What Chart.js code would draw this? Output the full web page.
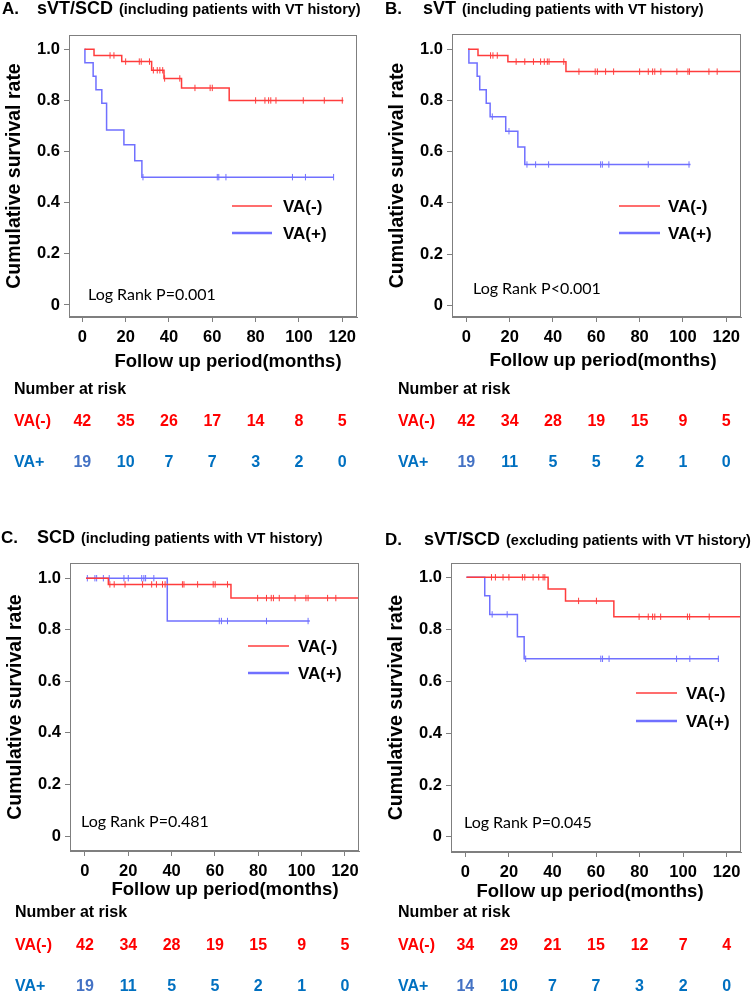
<!DOCTYPE html>
<html><head><meta charset="utf-8">
<script src="https://cdn.jsdelivr.net/npm/chart.js@4.4.1/dist/chart.umd.min.js"></script>
<style>
html,body{margin:0;padding:0;background:#fff;}
#wrap{position:relative;width:756px;height:994px;overflow:hidden;background:#fff;}
canvas{position:absolute;}
</style></head><body>
<div id="wrap">
<canvas id="cA" width="378" height="490" style="left:0;top:0"></canvas>
<canvas id="cB" width="378" height="490" style="left:378px;top:0"></canvas>
<canvas id="cC" width="378" height="504" style="left:0;top:490px"></canvas>
<canvas id="cD" width="378" height="504" style="left:378px;top:490px"></canvas>
</div>
<script>
// ---------- data ----------
const xTicks = [0, 20, 40, 60, 80, 100, 120];
const yTicks = [0, 0.2, 0.4, 0.6, 0.8, 1.0];
const groupLabels = ['VA(-)', 'VA(+)'];
const riskLabels = ['VA(-)', 'VA+'];

// Panel A: sVT/SCD (including patients with VT history)
const aNegTime = [1, 5.4, 18.2, 32, 37.7, 45.8, 67.8, 120.5];
const aNegSurv = [1, 0.976, 0.952, 0.918, 0.886, 0.849, 0.80, 0.80];
const aNegCens = [12.8, 14.6, 20, 26.3, 27.2, 31, 32.8, 34.6, 35.8, 37.1, 38, 45, 52, 59, 60, 80, 84.3, 86, 87, 89.4, 102, 111.7, 120];
const aPosTime = [1, 1.2, 5, 6.3, 9, 11.2, 19.2, 24.2, 27.5, 116];
const aPosSurv = [1, 0.947, 0.895, 0.842, 0.789, 0.684, 0.627, 0.564, 0.50, 0.50];
const aPosCens = [28, 62.3, 63, 66.3, 97, 103, 116];
const aRiskNeg = [42, 35, 26, 17, 14, 8, 5];
const aRiskPos = [19, 10, 7, 7, 3, 2, 0];

// Panel B: sVT (including patients with VT history)
const bNegTime = [0.8, 5.4, 19.2, 46, 130];
const bNegSurv = [1, 0.976, 0.952, 0.913, 0.913];
const bNegCens = [11.2, 12.3, 14.3, 23, 27, 31, 34.3, 36, 37.4, 38.2, 45, 52, 59.5, 60.5, 64.3, 68, 80, 84, 86, 87, 89.8, 97.2, 102.3, 103, 112, 115.8];
const bPosTime = [0.8, 1.2, 5, 6.2, 9.2, 11, 18.2, 23.8, 27, 103.5];
const bPosSurv = [1, 0.947, 0.895, 0.842, 0.789, 0.737, 0.68, 0.618, 0.55, 0.55];
const bPosCens = [12, 19.7, 28, 32, 38, 62, 62.8, 65.8, 84, 102.8];
const bRiskNeg = [42, 34, 28, 19, 15, 9, 5];
const bRiskPos = [19, 11, 5, 5, 2, 1, 0];

// Panel C: SCD (including patients with VT history)
const cNegTime = [0.5, 10.8, 67.4, 130];
const cNegSurv = [1, 0.976, 0.923, 0.923];
const cNegCens = [11.5, 13.5, 18.5, 26.6, 30.8, 33, 35.8, 37, 45, 45.7, 52, 59.2, 60.1, 65.8, 79.7, 83.8, 86, 87, 89.7, 97, 102, 103, 112, 115.8];
const cPosTime = [0.5, 38, 103.8];
const cPosSurv = [1, 0.834, 0.834];
const cPosCens = [1.1, 4.6, 5.4, 8.5, 11.2, 18, 20, 26.2, 27.2, 28, 31.8, 62, 63, 65.8, 83.8, 103];
const cRiskNeg = [42, 34, 28, 19, 15, 9, 5];
const cRiskPos = [19, 11, 5, 5, 2, 1, 0];

// Panel D: sVT/SCD (excluding patients with VT history)
const dNegTime = [0.5, 38, 46, 68.2, 130];
const dNegSurv = [1, 0.955, 0.909, 0.848, 0.848];
const dNegCens = [12, 13.8, 17.3, 20, 26.2, 27.3, 31.1, 33.7, 35.7, 36.5, 52, 60.2, 79.8, 84, 86, 87, 89.7, 102, 103, 112];
const dPosTime = [0.5, 8.9, 11.2, 23.9, 27, 116.5];
const dPosSurv = [1, 0.929, 0.857, 0.771, 0.686, 0.686];
const dPosCens = [12.3, 19.2, 27.7, 62.2, 63, 66, 97, 103.1, 116.2];
const dRiskNeg = [34, 29, 21, 15, 12, 7, 4];
const dRiskPos = [14, 10, 7, 7, 3, 2, 0];

// ---------- styling / layout ----------
const RED = '#ff3c3c';
const BLUE = '#7070ff';
const RISK_RED = '#ff0000';
const RISK_BLUE = '#0070c0';
const RISK_BLUE_FIRST = '#4472c4';
const FRAME = '#7f7f7f';
const ARIAL = '"Liberation Sans", Arial, Helvetica, sans-serif';
const CALIBRI = 'Lato, "Open Sans", sans-serif';

const panels = [
  { id: 'cA', W: 378, H: 490, letter: 'A.', main: 'sVT/SCD', paren: '(including patients with VT history)',
    letterX: 2, mainX: 37, titleY: 14, area: { l: 69, r: 357, t: 35, b: 317 },
    xmin: -6.15, xmax: 126.8, ymin: -0.047, ymax: 1.056,
    leg: { x1: 232, x2: 272, tx: 283, y1: 206, y2: 233 },
    logRank: 'Log Rank P=0.001', lrX: 88, lrY: 295, xtX: 228, xtY: 362,
    riskX: 14, riskTitleY: 390, riskY1: 422, riskY2: 463,
    neg: [aNegTime, aNegSurv, aNegCens], pos: [aPosTime, aPosSurv, aPosCens], risk: [aRiskNeg, aRiskPos] },
  { id: 'cB', W: 378, H: 490, letter: 'B.', main: 'sVT', paren: '(including patients with VT history)',
    letterX: 7, mainX: 45, titleY: 14, area: { l: 74, r: 363, t: 34, b: 317 },
    xmin: -6.6, xmax: 126.8, ymin: -0.046, ymax: 1.06,
    leg: { x1: 241, x2: 282, tx: 290, y1: 206, y2: 233 },
    logRank: 'Log Rank P<0.001', lrX: 95, lrY: 289, xtX: 225, xtY: 361,
    riskX: 20, riskTitleY: 390, riskY1: 422, riskY2: 463,
    neg: [bNegTime, bNegSurv, bNegCens], pos: [bPosTime, bPosSurv, bPosCens], risk: [bRiskNeg, bRiskPos] },
  { id: 'cC', W: 378, H: 504, letter: 'C.', main: 'SCD', paren: '(including patients with VT history)',
    letterX: 1, mainX: 37, titleY: 53, area: { l: 70, r: 359, t: 73, b: 361 },
    xmin: -6.9, xmax: 126.5, ymin: -0.058, ymax: 1.059,
    leg: { x1: 248, x2: 289, tx: 298, y1: 156, y2: 183 },
    logRank: 'Log Rank P=0.481', lrX: 81, lrY: 332, xtX: 225, xtY: 400,
    riskX: 15, riskTitleY: 423, riskY1: 456, riskY2: 497,
    neg: [cNegTime, cNegSurv, cNegCens], pos: [cPosTime, cPosSurv, cPosCens], risk: [cRiskNeg, cRiskPos] },
  { id: 'cD', W: 378, H: 504, letter: 'D.', main: 'sVT/SCD', paren: '(excluding patients with VT history)',
    letterX: 7, mainX: 46, titleY: 55, area: { l: 73, r: 363, t: 73, b: 362 },
    xmin: -6.6, xmax: 126.6, ymin: -0.058, ymax: 1.055,
    leg: { x1: 258, x2: 299, tx: 308, y1: 203, y2: 231 },
    logRank: 'Log Rank P=0.045', lrX: 86, lrY: 333, xtX: 212, xtY: 402,
    riskX: 20, riskTitleY: 423, riskY1: 456, riskY2: 497,
    neg: [dNegTime, dNegSurv, dNegCens], pos: [dPosTime, dPosSurv, dPosCens], risk: [dRiskNeg, dRiskPos] }
];

const Y_SCALE_W = 64;
const X_SCALE_H = 30;

function survAt(times, surv, t) {
  let s = surv[0];
  for (let i = 0; i < times.length; i++) if (times[i] <= t) s = surv[i];
  return s;
}
function curve(times, surv) { return times.map((t, i) => ({ x: t, y: surv[i] })); }
function censors(times, surv, cens) { return cens.map(t => ({ x: t, y: survAt(times, surv, t) })); }

const overlay = {
  id: 'overlay',
  afterDraw(chart, args, opts) {
    const p = opts.panel;
    const ctx = chart.ctx;
    const a = chart.chartArea;
    const xs = chart.scales.x;
    ctx.save();
    // frame
    ctx.strokeStyle = FRAME; ctx.lineWidth = 1;
    ctx.strokeRect(Math.round(a.left) + 0.5, Math.round(a.top) + 0.5, Math.round(a.right - a.left) - 1, Math.round(a.bottom - a.top) - 1);
    // title
    ctx.fillStyle = '#000'; ctx.textBaseline = 'alphabetic'; ctx.textAlign = 'left';
    ctx.font = 'bold 17px ' + ARIAL;
    ctx.fillText(p.letter, p.letterX, p.titleY);
    ctx.font = 'bold 18px ' + ARIAL;
    ctx.fillText(p.main, p.mainX, p.titleY);
    const mw = ctx.measureText(p.main).width;
    ctx.font = 'bold 14.5px ' + ARIAL;
    ctx.fillText(p.paren, p.mainX + mw + 6, p.titleY);
    // legend
    const ds = chart.data.datasets;
    ctx.textBaseline = 'middle';
    ctx.font = 'bold 17px ' + ARIAL;
    [[ds[0], p.leg.y1, 1.5], [ds[2], p.leg.y2, 2.5]].forEach(([d, y, lw]) => {
      ctx.strokeStyle = d.borderColor; ctx.lineWidth = lw;
      ctx.beginPath(); ctx.moveTo(p.leg.x1, y); ctx.lineTo(p.leg.x2, y); ctx.stroke();
      ctx.fillStyle = '#000';
      ctx.fillText(d.label, p.leg.tx, y + 1);
    });
    // log rank
    ctx.font = '16px ' + CALIBRI;
    ctx.fillText(p.logRank, p.lrX, p.lrY);
    // x axis title
    ctx.textAlign = 'center';
    ctx.font = 'bold 18.5px ' + ARIAL;
    ctx.fillText('Follow up period(months)', p.xtX, p.xtY);
    // risk table
    ctx.textAlign = 'left';
    ctx.font = 'bold 16px ' + ARIAL;
    ctx.fillText('Number at risk', p.riskX, p.riskTitleY);
    ctx.fillStyle = RISK_RED; ctx.fillText(riskLabels[0], p.riskX, p.riskY1);
    ctx.fillStyle = RISK_BLUE; ctx.fillText(riskLabels[1], p.riskX, p.riskY2);
    ctx.textAlign = 'center';
    xTicks.forEach((t, i) => {
      const px = xs.getPixelForValue(t);
      ctx.fillStyle = RISK_RED; ctx.fillText(String(p.risk[0][i]), px, p.riskY1);
      ctx.fillStyle = i === 0 ? RISK_BLUE_FIRST : RISK_BLUE; ctx.fillText(String(p.risk[1][i]), px, p.riskY2);
    });
    ctx.restore();
  }
};

panels.forEach(p => {
  const [nT, nS, nC] = p.neg;
  const [pT, pS, pC] = p.pos;
  new Chart(document.getElementById(p.id), {
    type: 'scatter',
    data: {
      datasets: [
        { label: groupLabels[0], data: curve(nT, nS), showLine: true, stepped: true, borderColor: RED, borderWidth: 1.5, pointRadius: 0, fill: false },
        { label: groupLabels[0] + ' censored', data: censors(nT, nS, nC), showLine: false, pointStyle: 'line', rotation: 90, pointRadius: 3.2, pointBorderColor: RED, borderColor: RED, pointBorderWidth: 1 },
        { label: groupLabels[1], data: curve(pT, pS), showLine: true, stepped: true, borderColor: BLUE, borderWidth: 1.5, pointRadius: 0, fill: false },
        { label: groupLabels[1] + ' censored', data: censors(pT, pS, pC), showLine: false, pointStyle: 'line', rotation: 90, pointRadius: 3.2, pointBorderColor: BLUE, borderColor: BLUE, pointBorderWidth: 1 }
      ]
    },
    options: {
      responsive: false, animation: false, devicePixelRatio: 1,
      events: [],
      layout: { autoPadding: false, padding: { left: p.area.l - Y_SCALE_W, right: p.W - p.area.r, top: p.area.t, bottom: p.H - p.area.b - X_SCALE_H } },
      plugins: { legend: { display: false }, tooltip: { enabled: false }, title: { display: false }, overlay: { panel: p } },
      scales: {
        x: {
          type: 'linear', min: p.xmin, max: p.xmax,
          afterBuildTicks: s => { s.ticks = xTicks.map(v => ({ value: v })); },
          afterFit: s => { s.height = X_SCALE_H; },
          ticks: { color: '#000', padding: 6, maxRotation: 0, font: { family: ARIAL, size: 16.5, weight: 'bold' }, callback: v => String(v) },
          grid: { display: true, drawOnChartArea: false, drawTicks: true, tickLength: 5, color: FRAME, lineWidth: 1 },
          border: { display: true, color: FRAME, width: 1 },
          title: { display: false }
        },
        y: {
          type: 'linear', min: p.ymin, max: p.ymax,
          afterBuildTicks: s => { s.ticks = yTicks.map(v => ({ value: v })); },
          afterFit: s => { s.width = Y_SCALE_W; },
          ticks: { color: '#000', padding: 4, font: { family: ARIAL, size: 16.5, weight: 'bold' }, callback: v => (v === 0 ? '0' : v.toFixed(1)) },
          grid: { display: true, drawOnChartArea: false, drawTicks: true, tickLength: 5, color: FRAME, lineWidth: 1 },
          border: { display: true, color: FRAME, width: 1 },
          title: { display: true, text: 'Cumulative survival rate', color: '#000', padding: { top: 0, bottom: 0 }, font: { family: ARIAL, size: 19.5, weight: 'bold', lineHeight: 1 } }
        }
      }
    },
    plugins: [overlay]
  });
});
</script>
</body></html>
